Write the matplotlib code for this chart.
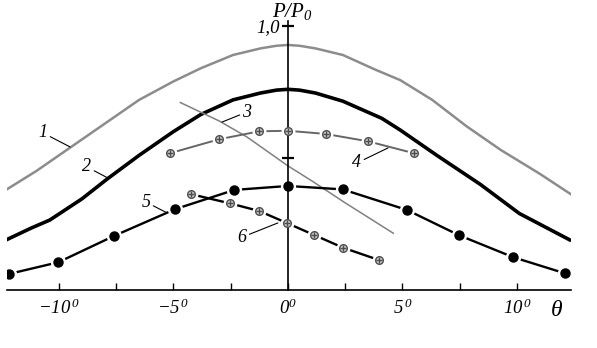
import matplotlib
matplotlib.use('Agg')
import matplotlib.pyplot as plt

plt.rcParams['font.family'] = ['Liberation Serif', 'DejaVu Serif']
plt.rcParams['font.style'] = 'italic'
plt.rcParams['mathtext.fontset'] = 'custom'
plt.rcParams['mathtext.it'] = 'Liberation Serif:italic'
plt.rcParams['mathtext.rm'] = 'Liberation Serif:italic'

# curve 1 (grey, widest)
theta1 = [-12.3, -11, -9.5, -8, -6.5, -5, -3.8, -2.4, -1.2, -0.5, 0, 0.5, 1.2, 2.4, 3.8, 4.9, 6.3, 7.8, 9.3, 11, 12.4]
p1 = [0.38, 0.45, 0.54, 0.63, 0.72, 0.79, 0.84, 0.89, 0.915, 0.925, 0.928, 0.925, 0.915, 0.89, 0.835, 0.795, 0.72, 0.62, 0.53, 0.44, 0.36]

# curve 2 (thick black)
theta2 = [-12.3, -11.2, -10.4, -9, -7.9, -6.5, -5, -3.8, -2.4, -1.2, -0.5, 0, 0.5, 1.2, 2.4, 4.1, 4.9, 6.5, 8.4, 10.1, 11.2, 12.3]
p2 = [0.19, 0.235, 0.265, 0.345, 0.42, 0.51, 0.6, 0.665, 0.72, 0.746, 0.757, 0.76, 0.757, 0.746, 0.715, 0.65, 0.606, 0.51, 0.40, 0.29, 0.24, 0.19]

# curve 3 (thin grey, falling)
theta3 = [-4.7, -3.0, -1.8, 0.0, 1.1, 2.5, 4.6]
p3 = [0.71, 0.64, 0.58, 0.47, 0.41, 0.33, 0.215]

# curve 4 (grey with hatched markers)
theta4 = [-5.15, -3.0, -1.25, 0.0, 1.65, 3.5, 5.5]
p4 = [0.518, 0.571, 0.601, 0.603, 0.591, 0.563, 0.518]

# curve 5 (black dots)
theta5 = [-12.17, -10.03, -7.59, -4.93, -2.34, 0.0, 2.39, 5.2, 7.48, 9.84, 12.1]
p5 = [0.061, 0.105, 0.205, 0.306, 0.379, 0.394, 0.381, 0.303, 0.207, 0.124, 0.063]

# curve 6 (black with hatched markers)
theta6 = [-4.24, -2.53, -1.25, -0.03, 1.15, 2.41, 3.99]
p6 = [0.363, 0.328, 0.299, 0.253, 0.208, 0.160, 0.113]

labels = ['1', '2', '3', '4', '5', '6']
label_xy = [(-10.7, 0.595), (-8.78, 0.466), (-1.79, 0.674), (3.01, 0.481), (-6.2, 0.333), (-2.0, 0.2)]
pointer_xy = [(-9.52, 0.542), (-7.86, 0.424), (-2.88, 0.636), (4.37, 0.538), (-5.28, 0.292), (-0.44, 0.254)]

xticks_major = [-10, -5, 0, 5, 10]
xticks_minor = [-7.5, -2.5, 2.5, 7.5]
xtick_labels = ['$-10^{\\,0}$', '$-5^{\\,0}$', '$0^{0}$', '$5^{\\,0}$', '$10^{\\,0}$']
yticks = [0.5, 1.0]
ytick_labels = ['', '1,0']


def hatched(ax, x, y, z):
    # white halo, then a small crossed circle
    ax.plot(x, y, 'o', ms=9, color='white', zorder=z)
    ax.plot(x, y, 'o', ms=5.5, mfc='0.8', mec='0.3', mew=1.0, zorder=z + 1)
    ax.plot(x, y, '+', ms=5, color='0.3', mew=1.0, zorder=z + 2)


fig = plt.figure(figsize=(5.97, 3.48), dpi=100)
ax = fig.add_axes([0.01173, 0.1667, 0.9447, 0.7739])
ax.set_xlim(-12.27, 12.36)
ax.set_ylim(0, 1.02)

ax.plot(theta1, p1, color='0.55', lw=1.8, zorder=2)
ax.plot(theta2, p2, color='black', lw=2.6, zorder=2)
ax.plot(theta3, p3, color='0.5', lw=1.1, zorder=2)

ax.plot(theta4, p4, color='0.4', lw=1.4, zorder=2)
hatched(ax, theta4, p4, 2.2)

ax.plot(theta5, p5, color='black', lw=1.7, zorder=2)
ax.plot(theta5, p5, 'o', ms=10, color='white', zorder=2.2)
ax.plot(theta5, p5, 'o', ms=6.5, color='black', zorder=3)

ax.plot(theta6, p6, color='black', lw=1.7, zorder=2)
hatched(ax, theta6, p6, 2.2)

for lab, txy, pxy in zip(labels, label_xy, pointer_xy):
    ax.annotate(lab, xy=pxy, xytext=txy, fontsize=13, ha='center', va='center',
                arrowprops=dict(arrowstyle='-', color='black', lw=0.8, shrinkA=0, shrinkB=0))

for s in ['top', 'right']:
    ax.spines[s].set_visible(False)
ax.spines['left'].set_position(('data', 0))
ax.spines['left'].set_zorder(2.5)
ax.spines['bottom'].set_zorder(2.5)
ax.spines['left'].set_linewidth(1.2)
ax.spines['bottom'].set_linewidth(1.2)

ax.set_xticks(xticks_major)
ax.set_xticks(xticks_minor, minor=True)
ax.set_xticklabels(xtick_labels, fontsize=13.5)
ax.tick_params(axis='x', which='both', direction='in', length=5, width=1.0, pad=6)

ax.set_yticks(yticks)
ax.set_yticklabels(ytick_labels, fontsize=13.5)
ax.tick_params(axis='y', direction='inout', length=8, width=1.6, pad=2)

ax.text(0.2, 1.035, '$P/P_0$', fontsize=15, ha='center', va='center', transform=ax.get_xaxis_transform())
ax.text(0.975, -0.075, 'θ', fontsize=17, ha='center', va='center', transform=ax.transAxes)

fig.savefig('out.png', dpi=100)
